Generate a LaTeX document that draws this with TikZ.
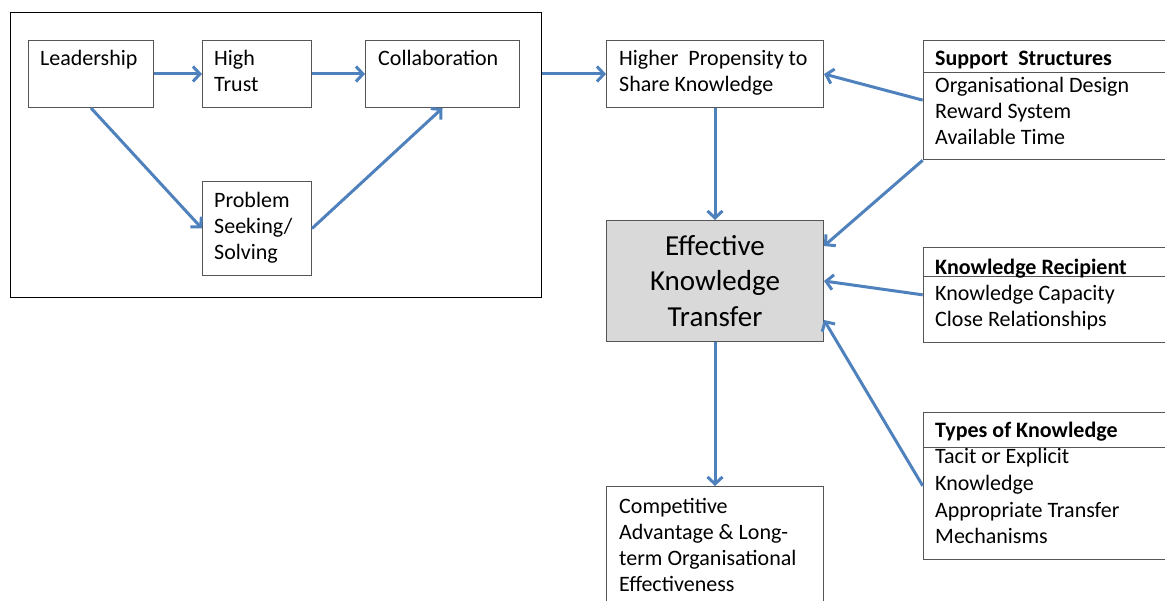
\documentclass[tikz,border=0pt]{standalone}
\usepackage{fontspec}
\setmainfont{Carlito}
\usetikzlibrary{arrows.meta,calc}
\definecolor{arrowblue}{RGB}{79,129,189}
\definecolor{boxgray}{RGB}{217,217,217}
\definecolor{edgegray}{RGB}{85,85,85}
\begin{document}
\begin{tikzpicture}[x=1pt,y=-1pt,
  box/.style={draw=edgegray, line width=1pt, inner sep=0pt, anchor=north west},
  txt/.style={anchor=base west, inner sep=0pt, font=\fontsize{22}{26}\selectfont},
  hdr/.style={txt, font=\fontsize{22}{26}\selectfont\bfseries},
  divider/.style={draw=edgegray, line width=1pt},
  conn/.style={draw=arrowblue, line width=3pt, -{Straight Barb[length=7pt,width=15pt]}},
]
\useasboundingbox (0,0) rectangle (1165,601);
% left group
\node[box, draw=black, minimum width=531, minimum height=285] (outer) at (10,12) {};
\node[box, minimum width=125, minimum height=67] (lead) at (28,40) {};
\node[txt] (leadt) at (40,66) {Leadership};
\node[box, minimum width=109, minimum height=67] (trust) at (202,40) {};
\node[txt] (trust1) at (214,66) {High};
\node[txt] (trust2) at (214,92) {Trust};
\node[box, minimum width=154, minimum height=67] (collab) at (365,40) {};
\node[txt] (collabt) at (378,66) {Collaboration};
\node[box, minimum width=109, minimum height=94] (prob) at (202,181) {};
\node[txt] (prob1) at (214,208) {Problem};
\node[txt] (prob2) at (214,234) {Seeking/};
\node[txt] (prob3) at (214,260) {Solving};
% centre column
\node[box, minimum width=217, minimum height=67] (higher) at (606,40) {};
\node[txt] (higher1) at (619,66) {Higher\ \ Propensity to};
\node[txt] (higher2) at (619,92) {Share Knowledge};
\node[box, fill=boxgray, minimum width=217, minimum height=121, align=center,
      font=\fontsize{29}{35.5}\selectfont] (eff) at (606,220) {Effective\\Knowledge\\Transfer};
\node[box, minimum width=217, minimum height=140] (comp) at (606,486) {};
\node[txt] (comp1) at (619,513) {Competitive};
\node[txt] (comp2) at (619,539) {Advantage \& Long-};
\node[txt] (comp3) at (619,565) {term Organisational};
\node[txt] (comp4) at (619,591) {Effectiveness};
% right column
\node[box, minimum width=260, minimum height=119.3] (sup) at (922.7,40) {};
\draw[divider] ($(sup.north west)+(0,32.7)$) -- ($(sup.north east)+(0,32.7)$);
\node[hdr] (sup0) at (935,66) {Support\ \ Structures};
\node[txt] (sup1) at (935,93) {Organisational Design};
\node[txt] (sup2) at (935,119) {Reward System};
\node[txt] (sup3) at (935,145) {Available Time};
\node[box, minimum width=260, minimum height=94.7] (rec) at (922.7,247) {};
\draw[divider] ($(rec.north west)+(0,29.7)$) -- ($(rec.north east)+(0,29.7)$);
\node[hdr] (rec0) at (935,275) {Knowledge Recipient};
\node[txt] (rec1) at (935,301) {Knowledge Capacity};
\node[txt] (rec2) at (935,327) {Close Relationships};
\node[box, minimum width=260, minimum height=147.3] (types) at (922.7,411.7) {};
\draw[divider] ($(types.north west)+(0,36)$) -- ($(types.north east)+(0,36)$);
\node[hdr] (types0) at (935,438) {Types of Knowledge};
\node[txt] (types1) at (935,464) {Tacit or Explicit};
\node[txt] (types2) at (935,490) {Knowledge};
\node[txt] (types3) at (935,517) {Appropriate Transfer};
\node[txt] (types4) at (935,543) {Mechanisms};
% connectors
\draw[conn] (lead.east) -- (trust.west);
\draw[conn] (trust.east) -- (collab.west);
\draw[conn] (lead.south) -- (prob.west);
\draw[conn] (prob.east) -- (collab.south);
\draw[conn] (outer.east |- higher.west) -- (higher.west);
\draw[conn] (higher.south) -- (eff.north);
\draw[conn] (sup.west) -- (higher.east);
\draw[conn] (sup.south west) -- ($(eff.north east)+(0,26)$);
\draw[conn] (rec.west) -- (eff.east);
\draw[conn] (types.west) -- ($(eff.south east)+(0,-22)$);
\draw[conn] (eff.south) -- (comp.north);
\end{tikzpicture}
\end{document}
